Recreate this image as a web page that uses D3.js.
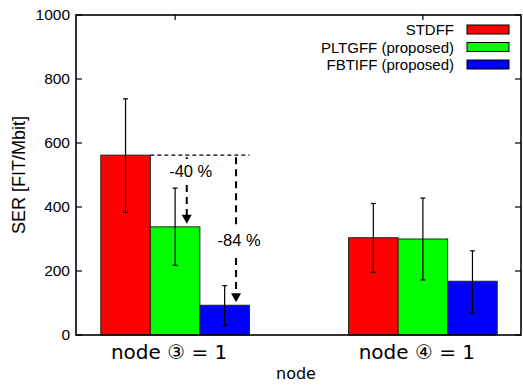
<!DOCTYPE html>
<html>
<head>
<meta charset="utf-8">
<script src="https://cdn.jsdelivr.net/npm/d3@7"></script>
<style>
  body { margin: 0; background: #fff; }
  text { font-family: "Liberation Sans", Arial, sans-serif; fill: #000; }
</style>
</head>
<body>
<div id="chart"></div>
<script>
const categories = ["node \u2462 = 1", "node \u2463 = 1"];
const seriesNames = ["STDFF", "PLTGFF (proposed)", "FBTIFF (proposed)"];
const seriesColors = ["#ff0000", "#00ff00", "#0000ff"];
const stdff = [562, 304];
const pltgff = [338, 300];
const fbtiff = [93, 168];
const errLow = [[383, 196], [218, 172], [29, 69]];
const errHigh = [[738, 411], [459, 428], [154, 263]];
const yTicks = [0, 200, 400, 600, 800, 1000];
const reductions = ["-40 %", "-84 %"];

const width = 523, height = 386;
const pLeft = 76, pRight = 521, pTop = 15, pBottom = 335;
const barW = 0.2;

const svg = d3.select("#chart").append("svg")
  .attr("width", width).attr("height", height);

const x = d3.scaleLinear().domain([-0.4, 1.4]).range([pLeft, pRight + 1]);
const y = d3.scaleLinear().domain([0, 1000]).range([pBottom, pTop]);

const allSeries = [stdff, pltgff, fbtiff];
const bars = [];
allSeries.forEach((vals, s) => {
  vals.forEach((v, c) => {
    bars.push({ s, c, v, lo: errLow[s][c], hi: errHigh[s][c], cx: c + (s - 1) * barW });
  });
});

// bars
svg.selectAll("rect.bar").data(bars).enter().append("rect")
  .attr("class", "bar")
  .attr("x", d => x(d.cx - barW / 2))
  .attr("y", d => y(d.v))
  .attr("width", d => x(d.cx + barW / 2) - x(d.cx - barW / 2))
  .attr("height", d => y(0) - y(d.v))
  .attr("fill", d => seriesColors[d.s])
  .attr("stroke", "#222").attr("stroke-width", 1);

// error bars
const eb = svg.append("g").attr("stroke", "#000").attr("stroke-width", 1.2);
bars.forEach(d => {
  const cx = x(d.cx);
  eb.append("line").attr("x1", cx).attr("x2", cx).attr("y1", y(d.lo)).attr("y2", y(d.hi));
  eb.append("line").attr("x1", cx - 2.5).attr("x2", cx + 2.5).attr("y1", y(d.lo)).attr("y2", y(d.lo));
  eb.append("line").attr("x1", cx - 2.5).attr("x2", cx + 2.5).attr("y1", y(d.hi)).attr("y2", y(d.hi));
});

// reduction annotations
const ann = svg.append("g");
const refY = y(stdff[0]);
ann.append("line")
  .attr("x1", x(-barW / 2)).attr("x2", x(barW * 1.5))
  .attr("y1", refY).attr("y2", refY)
  .attr("stroke", "#000").attr("stroke-width", 1.2).attr("stroke-dasharray", "4,3");

function arrow(xv, yTo, gap) {
  const ax = x(xv);
  const tip = y(yTo) - 3;
  const segs = [[refY, gap[0]], [gap[1], tip - 8]];
  segs.forEach(sg => {
    ann.append("line").attr("x1", ax).attr("x2", ax).attr("y1", sg[0] + 2).attr("y2", sg[1])
      .attr("stroke", "#000").attr("stroke-width", 2).attr("stroke-dasharray", "7,5");
  });
  ann.append("path")
    .attr("d", `M${ax - 5},${tip - 9}L${ax + 5},${tip - 9}L${ax},${tip}Z`)
    .attr("fill", "#000");
}
arrow(0.047, pltgff[0], [159, 183]);
arrow(barW + 0.046, fbtiff[0], [228, 256]);

ann.append("text").attr("x", x(0.063)).attr("y", 177)
  .attr("text-anchor", "middle").attr("font-size", 16.5).text(reductions[0]);
ann.append("text").attr("x", x(barW + 0.046) + 3).attr("y", 246)
  .attr("text-anchor", "middle").attr("font-size", 16.5).text(reductions[1]);

// border
svg.append("rect")
  .attr("x", pLeft).attr("y", pTop).attr("width", pRight - pLeft).attr("height", pBottom - pTop)
  .attr("fill", "none").attr("stroke", "#000").attr("stroke-width", 1.6);

// y ticks
yTicks.forEach(t => {
  svg.append("line").attr("x1", pLeft).attr("x2", pLeft + 6).attr("y1", y(t)).attr("y2", y(t))
    .attr("stroke", "#000").attr("stroke-width", 1.2);
  svg.append("line").attr("x1", pRight - 6).attr("x2", pRight).attr("y1", y(t)).attr("y2", y(t))
    .attr("stroke", "#000").attr("stroke-width", 1.2);
  svg.append("text").attr("x", 70).attr("y", y(t)).attr("dy", "0.35em")
    .attr("text-anchor", "end").attr("font-size", 15.5).text(t);
});

// category ticks and labels
categories.forEach((c, i) => {
  svg.append("line").attr("x1", x(i)).attr("x2", x(i)).attr("y1", pTop).attr("y2", pTop + 5)
    .attr("stroke", "#000").attr("stroke-width", 1.2);
  svg.append("text").attr("x", x(i) - 6).attr("y", 359)
    .attr("text-anchor", "middle")
    .style("font-family", "'DejaVu Sans', sans-serif").attr("font-size", 20)
    .text(c);
});

// axis labels
svg.append("text").attr("x", 296).attr("y", 379).attr("text-anchor", "middle")
  .style("font-family", "'DejaVu Sans', sans-serif").attr("font-size", 16).text("node");
svg.append("text").attr("transform", "translate(25,175) rotate(-90)")
  .attr("text-anchor", "middle").attr("font-size", 18).text("SER [FIT/Mbit]");

// legend
const legY = [29.5, 47, 64.5];
seriesNames.forEach((n, i) => {
  svg.append("text").attr("x", 454).attr("y", legY[i] + 5.5)
    .attr("text-anchor", "end").attr("font-size", 15).text(n);
  svg.append("rect").attr("x", 467).attr("y", legY[i] - 4.5).attr("width", 42).attr("height", 9)
    .attr("fill", seriesColors[i]).attr("stroke", "#000").attr("stroke-width", 1);
});
</script>
</body>
</html>
